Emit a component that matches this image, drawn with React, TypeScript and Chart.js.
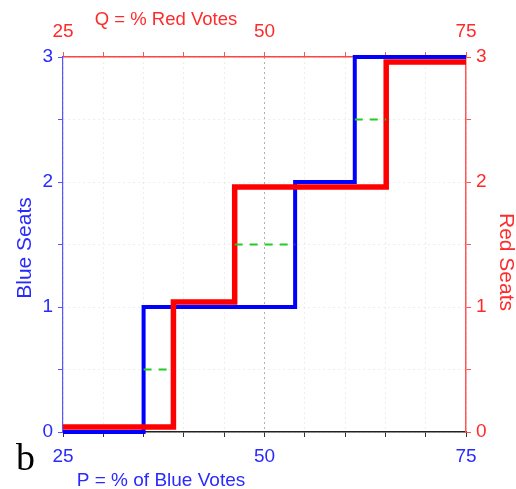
import React, { useEffect, useRef } from "react";
import { Chart, registerables } from "chart.js";

Chart.register(...registerables);

const blueX = [25, 35, 53.8, 61.2, 75];
const blueY = [0, 1, 2, 3, 3];
const redX = [25, 38.7, 46.3, 65.1, 75];
const redY = [0.04, 1.04, 1.96, 2.96, 2.96];
const greenX = [35, 38.7, null, 46.3, 53.8, null, 61.2, 65.1];
const greenY = [0.5, 0.5, null, 1.5, 1.5, null, 2.5, 2.5];
const xLabels = [25, 50, 75];
const yLabels = [0, 1, 2, 3];

const BLUE = "#0000ff";
const RED = "#ff0000";
const BLUE_TXT = "#2a2aff";
const RED_TXT = "#ff2a2a";
const FONT = "'Liberation Sans', Arial, sans-serif";

const toPts = (xs: (number | null)[], ys: (number | null)[]) =>
  xs.map((x, i) => (x === null ? { x: NaN, y: null } : { x, y: ys[i] }));

const titlesPlugin = {
  id: "titles",
  afterDraw(chart: any) {
    const ctx = chart.ctx;
    ctx.save();
    ctx.textBaseline = "alphabetic";
    ctx.textAlign = "center";
    ctx.fillStyle = RED_TXT;
    ctx.font = `18.5px ${FONT}`;
    ctx.fillText("Q = % Red Votes", 166, 25);
    ctx.fillStyle = BLUE_TXT;
    ctx.font = `19px ${FONT}`;
    ctx.fillText("P = % of Blue Votes", 161, 486);
    ctx.font = `21px ${FONT}`;
    ctx.save();
    ctx.translate(31, 248);
    ctx.rotate(-Math.PI / 2);
    ctx.fillText("Blue Seats", 0, 0);
    ctx.restore();
    ctx.fillStyle = RED_TXT;
    ctx.save();
    ctx.translate(500, 262);
    ctx.rotate(Math.PI / 2);
    ctx.fillText("Red Seats", 0, 0);
    ctx.restore();
    ctx.fillStyle = "#000";
    ctx.textAlign = "left";
    ctx.font = `38px 'Liberation Serif', 'Times New Roman', serif`;
    ctx.fillText("b", 16, 470);
    ctx.restore();
  },
};

export default function App() {
  const ref = useRef<HTMLCanvasElement>(null);
  useEffect(() => {
    const xTick = (v: any) => (xLabels.includes(Number(v)) ? String(v) : "");
    const yTick = (v: any) => (yLabels.includes(Number(v)) ? String(v) : "");
    const chart = new Chart(ref.current!, {
      type: "line",
      data: {
        datasets: [
          {
            data: toPts(greenX, greenY) as any,
            borderColor: "#22cc22",
            borderWidth: 2,
            borderDash: [8, 7],
            pointRadius: 0,
            spanGaps: false,
            order: 0,
          },
          {
            data: toPts(redX, redY) as any,
            borderColor: RED,
            borderWidth: 5.5,
            stepped: "before",
            pointRadius: 0,
            order: 1,
            clip: 6,
          },
          {
            data: toPts(blueX, blueY) as any,
            borderColor: BLUE,
            borderWidth: 4,
            stepped: "before",
            pointRadius: 0,
            order: 2,
            clip: 6,
          },
        ],
      },
      options: {
        responsive: false,
        animation: false,
        events: [],
        layout: { padding: 0 },
        plugins: { legend: { display: false }, tooltip: { enabled: false } },
        scales: {
          x: {
            type: "linear",
            position: "bottom",
            min: 25,
            max: 75,
            afterFit: (s: any) => { s.height = 57; },
            ticks: {
              stepSize: 5,
              autoSkip: false,
              maxRotation: 0,
              callback: xTick,
              color: BLUE_TXT,
              font: { family: FONT, size: 19 },
              padding: 8,
            },
            grid: {
              color: (c: any) => (c.tick && c.tick.value === 50 ? "#b0b0b0" : "rgba(0,0,0,0.07)"),
              lineWidth: 1,
              tickLength: 5,
              tickColor: "#333",
              tickWidth: 1,
            },
            border: { display: true, color: "#222", width: 1.5, dash: [2, 3] },
          },
          x2: {
            type: "linear",
            position: "top",
            min: 25,
            max: 75,
            afterFit: (s: any) => { s.height = 57; },
            ticks: {
              stepSize: 5,
              autoSkip: false,
              maxRotation: 0,
              callback: xTick,
              color: RED_TXT,
              font: { family: FONT, size: 19 },
              padding: 9,
            },
            grid: { drawOnChartArea: false, tickLength: 5, tickColor: "#ff5555", tickWidth: 1 },
            border: { display: true, color: "#ff4444", width: 1.5 },
          },
          y: {
            type: "linear",
            position: "left",
            min: 0,
            max: 3,
            afterFit: (s: any) => { s.width = 63; },
            ticks: {
              stepSize: 0.5,
              autoSkip: false,
              callback: yTick,
              color: BLUE_TXT,
              font: { family: FONT, size: 19 },
              padding: 5,
            },
            grid: {
              color: "rgba(0,0,0,0.07)",
              tickLength: 5,
              tickColor: "#5555ff",
              tickWidth: 1,
            },
            border: { display: true, color: "#5555ff", width: 1.2, dash: [2, 3] },
          },
          y2: {
            type: "linear",
            position: "right",
            min: 0,
            max: 3,
            afterFit: (s: any) => { s.width = 50; },
            ticks: {
              stepSize: 0.5,
              autoSkip: false,
              callback: yTick,
              color: RED_TXT,
              font: { family: FONT, size: 19 },
              padding: 5,
            },
            grid: { drawOnChartArea: false, tickLength: 5, tickColor: "#ff5555", tickWidth: 1 },
            border: { display: true, color: "#ff5555", width: 1.5 },
          },
        },
      } as any,
      plugins: [titlesPlugin],
    });
    return () => chart.destroy();
  }, []);
  return (
    <div style={{ position: "fixed", left: 0, top: 0, width: 516, height: 489, background: "#fff" }}>
      <canvas ref={ref} width={516} height={489} style={{ display: "block" }} />
    </div>
  );
}
